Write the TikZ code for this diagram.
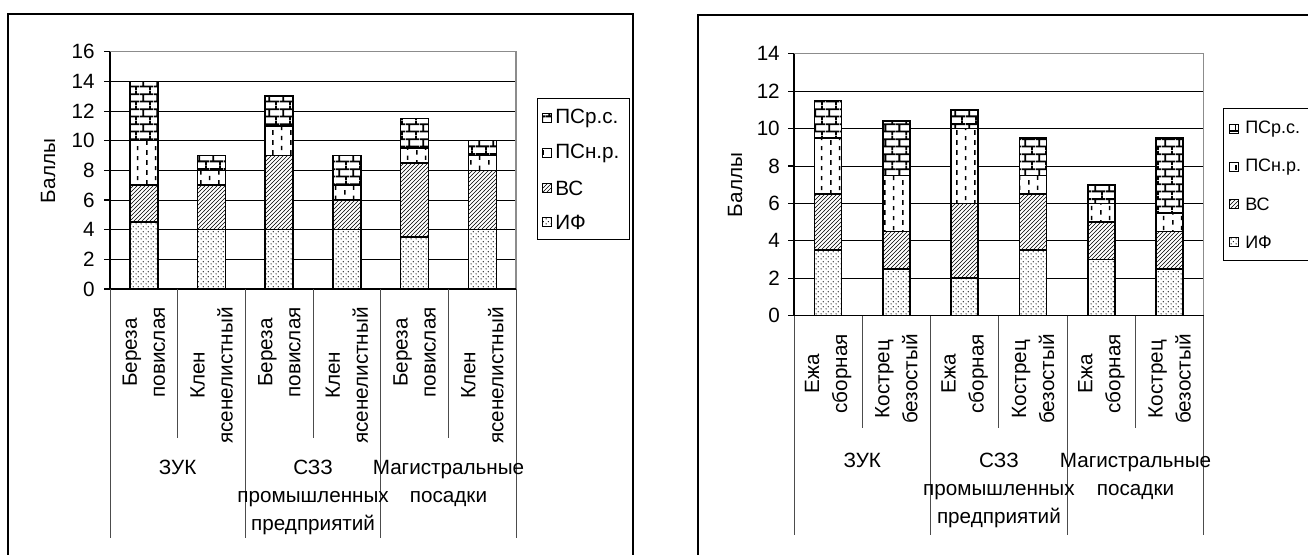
\documentclass[tikz,border=0pt]{standalone}
\usepackage{fontspec}
\setmainfont{Liberation Sans}
\usetikzlibrary{patterns}

% fills of the four layers
\pgfdeclarepatternformonly{ifdots}{\pgfpointorigin}{\pgfqpoint{3.75pt}{3.75pt}}{\pgfqpoint{3.75pt}{3.75pt}}{%
  \pgfpathcircle{\pgfqpoint{0.94pt}{0.94pt}}{0.55pt}%
  \pgfpathcircle{\pgfqpoint{2.81pt}{2.81pt}}{0.55pt}%
  \pgfusepath{fill}}
\pgfdeclarepatternformonly{vdashes}{\pgfpointorigin}{\pgfqpoint{13.5pt}{7.5pt}}{\pgfqpoint{13.5pt}{7.5pt}}{%
  \pgfsetlinewidth{1.1pt}%
  \pgfpathmoveto{\pgfqpoint{2.25pt}{0.2pt}}\pgfpathlineto{\pgfqpoint{2.25pt}{3.9pt}}%
  \pgfpathmoveto{\pgfqpoint{9pt}{3.95pt}}\pgfpathlineto{\pgfqpoint{9pt}{7.3pt}}%
  \pgfusepath{stroke}}
\pgfdeclarepatternformonly{brickwall}{\pgfpointorigin}{\pgfqpoint{10.5pt}{11.25pt}}{\pgfqpoint{10.5pt}{11.25pt}}{%
  \pgfsetlinewidth{1.4pt}%
  \pgfpathmoveto{\pgfqpoint{0pt}{2.8pt}}\pgfpathlineto{\pgfqpoint{10.5pt}{2.8pt}}%
  \pgfpathmoveto{\pgfqpoint{0pt}{8.43pt}}\pgfpathlineto{\pgfqpoint{10.5pt}{8.43pt}}%
  \pgfpathmoveto{\pgfqpoint{2.6pt}{2.8pt}}\pgfpathlineto{\pgfqpoint{2.6pt}{8.43pt}}%
  \pgfpathmoveto{\pgfqpoint{7.9pt}{8.43pt}}\pgfpathlineto{\pgfqpoint{7.9pt}{11.25pt}}%
  \pgfpathmoveto{\pgfqpoint{7.9pt}{0pt}}\pgfpathlineto{\pgfqpoint{7.9pt}{2.8pt}}%
  \pgfusepath{stroke}}

\tikzset{
  chart frame/.style={draw=black, line width=0.8pt},
  plot border/.style={draw=black!45, line width=0.9pt},
  grid line/.style={draw=black, line width=0.7pt},
  axis line/.style={draw=black, line width=0.8pt},
  cat line/.style={draw=black!70, line width=0.7pt},
  bar seg/.style={draw=black, line width=1.2pt, preaction={fill=white}},
  key box/.style={draw=black, line width=0.6pt, preaction={fill=white}},
  tick label/.style={anchor=east, inner sep=0pt},
  cat label/.style={rotate=90, anchor=east, align=center, inner sep=0pt},
  group label/.style={anchor=north, align=center, inner sep=0pt},
  key label/.style={anchor=west, inner sep=0pt},
}

\begin{document}
\begin{tikzpicture}[x=0.75pt,y=0.75pt,yscale=-1,xscale=1,font=\fontsize{15.5}{21}\selectfont]
\useasboundingbox (0,0) rectangle (1308,555);
\fill[white] (0,0) rectangle (1308,555);

%%%%%%%%%%%%%%%% left chart: trees
%Shape: Rectangle [frame]
\draw[chart frame] (8,14) rectangle (633,600);
%Straight Lines [grid]
\foreach \v in {2,4,...,14}
  \draw[grid line] (110,{289-14.83*\v}) -- (516,{289-14.83*\v});
\draw[plot border] (110,{289-14.83*16}) -- (516,{289-14.83*16}) -- (516,289);
%Straight Lines [axes]
\draw[axis line] (110,{289-14.83*16}) -- (110,289) -- (516,289);
\foreach \v in {0,2,...,16} {
  \draw[axis line] (104,{289-14.83*\v}) -- (110,{289-14.83*\v});
  \node[tick label] at (95,{289-14.83*\v}) {\v};
}
%Straight Lines [category lines]
\foreach \x in {177.7,313.1,448.5}
  \draw[cat line] (\x,289) -- (\x,438);
\foreach \x in {110,245.4,380.8,516.2}
  \draw[cat line] (\x,289) -- (\x,538);
%Shape: Rectangles [bars]
\foreach \cx/\a/\b/\c/\d in {143.85/4.5/7/10/14, 211.55/4/7/8/9, 279.25/4/9/11/13,
    346.95/4/6/7/9, 414.65/3.5/8.5/9.5/11.5, 482.35/4/8/9/10} {
  \draw[bar seg, pattern=ifdots] (\cx-14,289) rectangle (\cx+14,{289-14.83*\a});
  \draw[bar seg, pattern=north east lines] (\cx-14,{289-14.83*\a}) rectangle (\cx+14,{289-14.83*\b});
  \draw[bar seg, pattern=vdashes] (\cx-14,{289-14.83*\b}) rectangle (\cx+14,{289-14.83*\c});
  \draw[bar seg, pattern=brickwall] (\cx-14,{289-14.83*\c}) rectangle (\cx+14,{289-14.83*\d});
}
% Text Node
\node[rotate=90] (ballyA) at (48,171) {Баллы};
% Text Node
\node[cat label] (treeA) at (143.85,307) {Береза\\повислая};
\node[cat label] (treeB) at (211.55,307) {Клен\\ясенелистный};
\node[cat label] (treeC) at (279.25,307) {Береза\\повислая};
\node[cat label] (treeD) at (346.95,307) {Клен\\ясенелистный};
\node[cat label] (treeE) at (414.65,307) {Береза\\повислая};
\node[cat label] (treeF) at (482.35,307) {Клен\\ясенелистный};
% Text Node
\node[group label] (zukA) at (177.7,460) {ЗУК};
\node[group label] (szzA) at (313.1,460) {СЗЗ\\промышленных\\предприятий};
\node[group label] (magA) at (448.5,460) {Магистральные\\посадки};
%Shape: Rectangle [legend]
\draw[key box] (537,98) rectangle (629,239);
\foreach \y/\p/\t in {118/brickwall/ПСр.с., 153/vdashes/ПСн.р., 188/north east lines/ВС, 222/ifdots/ИФ} {
  \draw[key box, pattern=\p] (542,\y-4.5) rectangle (551,\y+4.5);
  \node[key label] at (555,\y) {\t};
}

%%%%%%%%%%%%%%%% right chart: grasses
%Shape: Rectangle [frame]
\draw[chart frame] (698,15) rectangle (1330,600);
%Straight Lines [grid]
\foreach \v in {2,4,...,12}
  \draw[grid line] (794,{315.7-18.71*\v}) -- (1203.8,{315.7-18.71*\v});
\draw[plot border] (794,{315.7-18.71*14}) -- (1203.8,{315.7-18.71*14}) -- (1203.8,315.7);
%Straight Lines [axes]
\draw[axis line] (794,{315.7-18.71*14}) -- (794,315.7) -- (1203.8,315.7);
\foreach \v in {0,2,...,14} {
  \draw[axis line] (788,{315.7-18.71*\v}) -- (794,{315.7-18.71*\v});
  \node[tick label] at (780,{315.7-18.71*\v}) {\v};
}
%Straight Lines [category lines]
\foreach \x in {862.3,998.9,1135.5}
  \draw[cat line] (\x,315.7) -- (\x,428);
\foreach \x in {794,930.6,1067.2,1203.8}
  \draw[cat line] (\x,315.7) -- (\x,535);
%Shape: Rectangles [bars]
\foreach \cx/\a/\b/\c/\d in {828.15/3.5/6.5/9.5/11.5, 896.45/2.5/4.5/7.5/10.4, 964.75/2/6/10/11,
    1033.05/3.5/6.5/7.5/9.5, 1101.35/3/5/6/7, 1169.65/2.5/4.5/5.5/9.5} {
  \draw[bar seg, pattern=ifdots] (\cx-13.5,315.7) rectangle (\cx+13.5,{315.7-18.71*\a});
  \draw[bar seg, pattern=north east lines] (\cx-13.5,{315.7-18.71*\a}) rectangle (\cx+13.5,{315.7-18.71*\b});
  \draw[bar seg, pattern=vdashes] (\cx-13.5,{315.7-18.71*\b}) rectangle (\cx+13.5,{315.7-18.71*\c});
  \draw[bar seg, pattern=brickwall] (\cx-13.5,{315.7-18.71*\c}) rectangle (\cx+13.5,{315.7-18.71*\d});
}
% Text Node
\node[rotate=90] (ballyB) at (735,185) {Баллы};
% Text Node
\node[cat label] (grassA) at (828.15,334) {Ежа\\сборная};
\node[cat label] (grassB) at (896.45,334) {Кострец\\безостый};
\node[cat label] (grassC) at (964.75,334) {Ежа\\сборная};
\node[cat label] (grassD) at (1033.05,334) {Кострец\\безостый};
\node[cat label] (grassE) at (1101.35,334) {Ежа\\сборная};
\node[cat label] (grassF) at (1169.65,334) {Кострец\\безостый};
% Text Node
\node[group label] (zukB) at (862.3,453) {ЗУК};
\node[group label] (szzB) at (998.9,453) {СЗЗ\\промышленных\\предприятий};
\node[group label] (magB) at (1135.5,453) {Магистральные\\посадки};
%Shape: Rectangle [legend]
\draw[key box] (1223,108) rectangle (1330,260);
\foreach \y/\p/\t in {129/brickwall/ПСр.с., 167/vdashes/ПСн.р., 204/north east lines/ВС, 242/ifdots/ИФ} {
  \draw[key box, pattern=\p] (1229,\y-4.5) rectangle (1238,\y+4.5);
  \node[key label, font=\fontsize{13.5}{16}\selectfont] at (1245,\y) {\t};
}
\end{tikzpicture}
\end{document}
